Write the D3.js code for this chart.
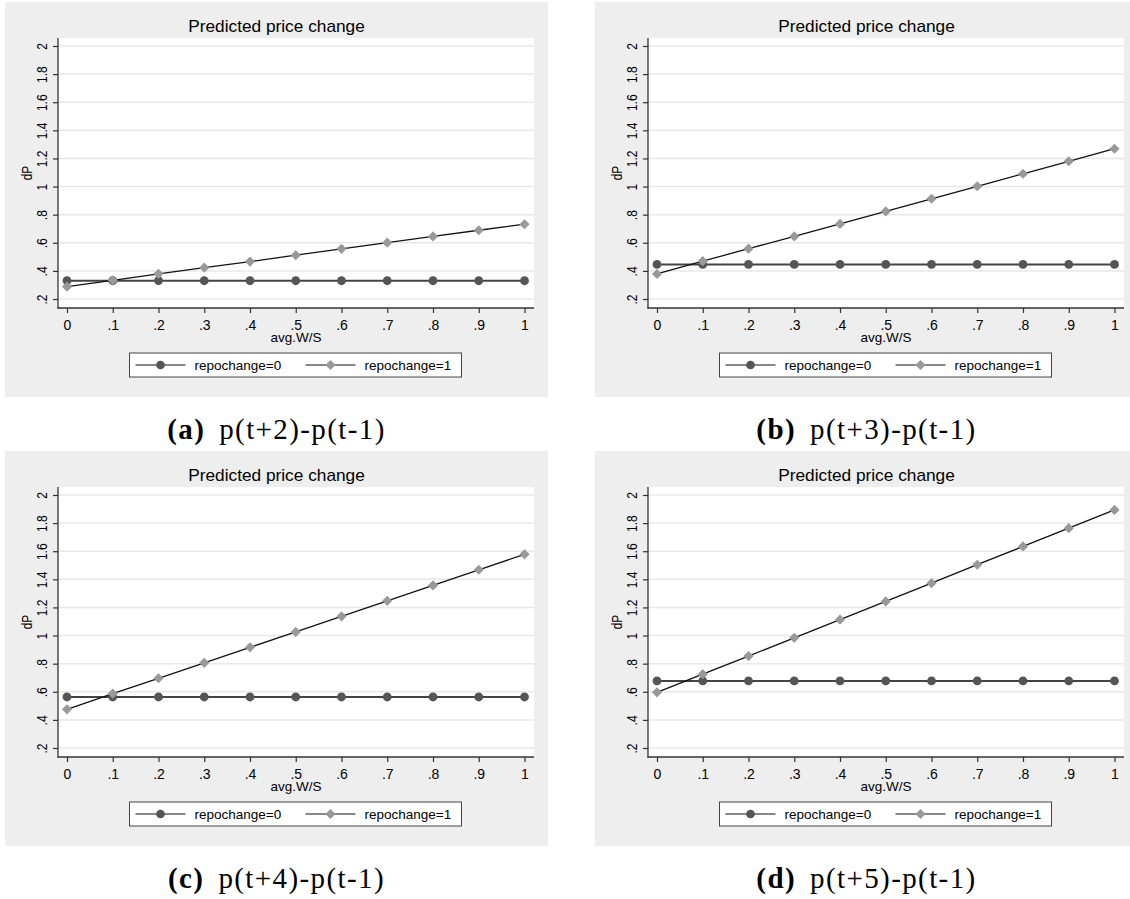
<!DOCTYPE html>
<html>
<head>
<meta charset="utf-8">
<title>Predicted price change</title>
<script src="https://cdn.jsdelivr.net/npm/d3@7"></script>
<style>
	body { margin: 0; background: #fff; }
	svg { display: block; }
	text { font-family: "Liberation Sans", Arial, sans-serif; fill: #000; }
	.caption { font-family: "Liberation Serif", "Times New Roman", serif; }
</style>
</head>
<body>
<svg id="Canvas" width="1130" height="899"></svg>
<script>
	// x values (avg.W/S) and their tick labels
	var wsLevels = [0, .1, .2, .3, .4, .5, .6, .7, .8, .9, 1];
	var xTickLabels = ["0", ".1", ".2", ".3", ".4", ".5", ".6", ".7", ".8", ".9", "1"];

	// y ticks (dP)
	var yTicks = [.2, .4, .6, .8, 1, 1.2, 1.4, 1.6, 1.8, 2];
	var yTickLabels = [".2", ".4", ".6", ".8", "1", "1.2", "1.4", "1.6", "1.8", "2"];

	var seriesNames = ["repochange=0", "repochange=1"];

	// (a) p(t+2)-p(t-1)
	var repo0_a = [0.330, 0.330, 0.330, 0.330, 0.330, 0.330, 0.330, 0.330, 0.330, 0.330, 0.330];
	var repo1_a = [0.288, 0.333, 0.379, 0.423, 0.466, 0.512, 0.557, 0.601, 0.645, 0.689, 0.732];
	// (b) p(t+3)-p(t-1)
	var repo0_b = [0.446, 0.446, 0.446, 0.446, 0.446, 0.446, 0.446, 0.446, 0.446, 0.446, 0.446];
	var repo1_b = [0.378, 0.469, 0.558, 0.645, 0.734, 0.823, 0.913, 1.002, 1.091, 1.180, 1.269];
	// (c) p(t+4)-p(t-1)
	var repo0_c = [0.563, 0.563, 0.563, 0.563, 0.563, 0.563, 0.563, 0.563, 0.563, 0.563, 0.563];
	var repo1_c = [0.475, 0.587, 0.696, 0.806, 0.916, 1.026, 1.137, 1.247, 1.357, 1.468, 1.578];
	// (d) p(t+5)-p(t-1)
	var repo0_d = [0.677, 0.677, 0.677, 0.677, 0.677, 0.677, 0.677, 0.677, 0.677, 0.677, 0.677];
	var repo1_d = [0.596, 0.725, 0.854, 0.984, 1.113, 1.243, 1.373, 1.504, 1.634, 1.764, 1.894];

	var panelLetters = ["(a)", "(b)", "(c)", "(d)"];
	var panelCaptions = ["p(t+2)-p(t-1)", "p(t+3)-p(t-1)", "p(t+4)-p(t-1)", "p(t+5)-p(t-1)"];

	var svg = d3.select("#Canvas");

	var panels = [
		{ ox: 0,   oy: 0,   r0: repo0_a, r1: repo1_a },
		{ ox: 590, oy: 0,   r0: repo0_b, r1: repo1_b },
		{ ox: 0,   oy: 449, r0: repo0_c, r1: repo1_c },
		{ ox: 590, oy: 449, r0: repo0_d, r1: repo1_d }
	];

	panels.forEach(function(p, i){
		DrawPanel(p, i);
	});

	/*
	 * One Stata style graph plus its caption
	 */
	function DrawPanel(p, i){
		var ox = p.ox, oy = p.oy;
		var g = svg.append("g");

		var plotL = ox + 58, plotR = ox + 534, plotT = oy + 38, plotB = oy + 308;

		// graph region
		g.append("rect")
			.attr("x", ox + 5).attr("y", oy + 2)
			.attr("width", 543).attr("height", 395)
			.style("fill", "#eeeeee");

		g.append("rect")
			.attr("x", plotL).attr("y", plotT)
			.attr("width", plotR - plotL).attr("height", plotB - plotT)
			.style("fill", "#fff");

		var x = d3.scaleLinear().domain([0, 1]).range([ox + 67, ox + 524.5]);
		var y = d3.scaleLinear().domain([0.2, 2]).range([oy + 299, oy + 46]);

		// gridlines
		g.selectAll(".grid").data(yTicks).enter()
			.append("line")
			.attr("x1", plotL).attr("x2", plotR)
			.attr("y1", function(d){ return y(d); })
			.attr("y2", function(d){ return y(d); })
			.style("stroke", "#e8e8e8")
			.style("stroke-width", 1.5);

		// y axis
		var yAxis = g.append("g")
			.attr("transform", "translate(" + plotL + ",0)")
			.call(d3.axisLeft(y).tickValues(yTicks)
				.tickFormat(function(d, k){ return yTickLabels[k]; })
				.tickSize(5).tickSizeOuter(0));
		yAxis.select(".domain").remove();
		yAxis.selectAll("line").style("stroke", "#333").style("stroke-width", 1.2);
		yAxis.selectAll("text")
			.attr("x", null).attr("dy", null)
			.attr("transform", "translate(-11,0) rotate(-90) scale(0.86,1)")
			.attr("text-anchor", "middle")
			.style("font-size", "14px")
			.style("fill", "#000");

		// x axis
		var xAxis = g.append("g")
			.attr("transform", "translate(0," + plotB + ")")
			.call(d3.axisBottom(x).tickValues(wsLevels)
				.tickFormat(function(d, k){ return xTickLabels[k]; })
				.tickSize(5).tickPadding(7).tickSizeOuter(0));
		xAxis.select(".domain").remove();
		xAxis.selectAll("line").style("stroke", "#333").style("stroke-width", 1.2);
		xAxis.selectAll("text")
			.style("font-size", "14px")
			.style("fill", "#000");

		// axis lines over the full plot region
		g.append("line")
			.attr("x1", plotL).attr("x2", plotL)
			.attr("y1", plotT).attr("y2", plotB + 0.6)
			.style("stroke", "#333").style("stroke-width", 1.3);
		g.append("line")
			.attr("x1", plotL - 0.6).attr("x2", plotR)
			.attr("y1", plotB).attr("y2", plotB)
			.style("stroke", "#333").style("stroke-width", 1.3);

		// series
		var line = d3.line()
			.x(function(d, k){ return x(wsLevels[k]); })
			.y(function(d){ return y(d); });

		g.append("path").datum(p.r0)
			.attr("d", line)
			.style("fill", "none").style("stroke", "#444").style("stroke-width", 2);
		g.selectAll(".c0").data(p.r0).enter()
			.append("circle")
			.attr("cx", function(d, k){ return x(wsLevels[k]); })
			.attr("cy", function(d){ return y(d); })
			.attr("r", 4.4)
			.style("fill", "#555");

		g.append("path").datum(p.r1)
			.attr("d", line)
			.style("fill", "none").style("stroke", "#111").style("stroke-width", 1.3);
		g.selectAll(".d1").data(p.r1).enter()
			.append("path")
			.attr("d", d3.symbol().type(d3.symbolDiamond2).size(66))
			.attr("transform", function(d, k){ return "translate(" + x(wsLevels[k]) + "," + y(d) + ")"; })
			.style("fill", "#999");

		// titles
		g.append("text")
			.attr("transform", "translate(" + (ox + 276.5) + "," + (oy + 32) + ") scale(1.08,1)")
			.attr("text-anchor", "middle")
			.style("font-size", "16px")
			.text("Predicted price change");

		g.append("text")
			.attr("transform", "translate(" + (ox + 32) + "," + (oy + 173) + ") rotate(-90) scale(0.85,1)")
			.attr("text-anchor", "middle")
			.style("font-size", "14px")
			.text("dP");

		g.append("text")
			.attr("x", (plotL + plotR) / 2).attr("y", oy + 342)
			.attr("text-anchor", "middle")
			.style("font-size", "13.5px")
			.text("avg.W/S");

		DrawLegend(g, ox + 129.5, oy + 353);

		// caption
		var cap = g.append("text")
			.attr("class", "caption")
			.attr("x", ox + 276.5).attr("y", oy + 439)
			.attr("text-anchor", "middle")
			.style("font-size", "29px")
			.style("letter-spacing", "1.4px");
		cap.append("tspan").style("font-weight", "bold").text(panelLetters[i]);
		cap.append("tspan").attr("dx", 14).text(panelCaptions[i]);
	}

	/*
	 * Legend box with both series keys
	 */
	function DrawLegend(g, L, T){
		var lg = g.append("g").attr("transform", "translate(" + L + "," + T + ")");
		lg.append("rect")
			.attr("x", 0).attr("y", 0).attr("width", 332).attr("height", 24)
			.style("fill", "#fff").style("stroke", "#444").style("stroke-width", 1);

		var keys = lg.selectAll(".key").data(seriesNames).enter()
			.append("g")
			.attr("transform", function(d, k){ return "translate(" + (k * 170) + ",0)"; });

		keys.append("line")
			.attr("x1", 6).attr("x2", 56).attr("y1", 12).attr("y2", 12)
			.style("stroke", "#111").style("stroke-width", 1.2);

		keys.append("path")
			.attr("d", function(d, k){
				return k === 0 ? d3.symbol().type(d3.symbolCircle).size(60)()
					: d3.symbol().type(d3.symbolDiamond2).size(66)();
			})
			.attr("transform", "translate(31,12)")
			.style("fill", function(d, k){ return k === 0 ? "#555" : "#999"; });

		keys.append("text")
			.attr("x", 65).attr("y", 17)
			.style("font-size", "13.5px")
			.text(function(d){ return d; });
	}
</script>
</body>
</html>
